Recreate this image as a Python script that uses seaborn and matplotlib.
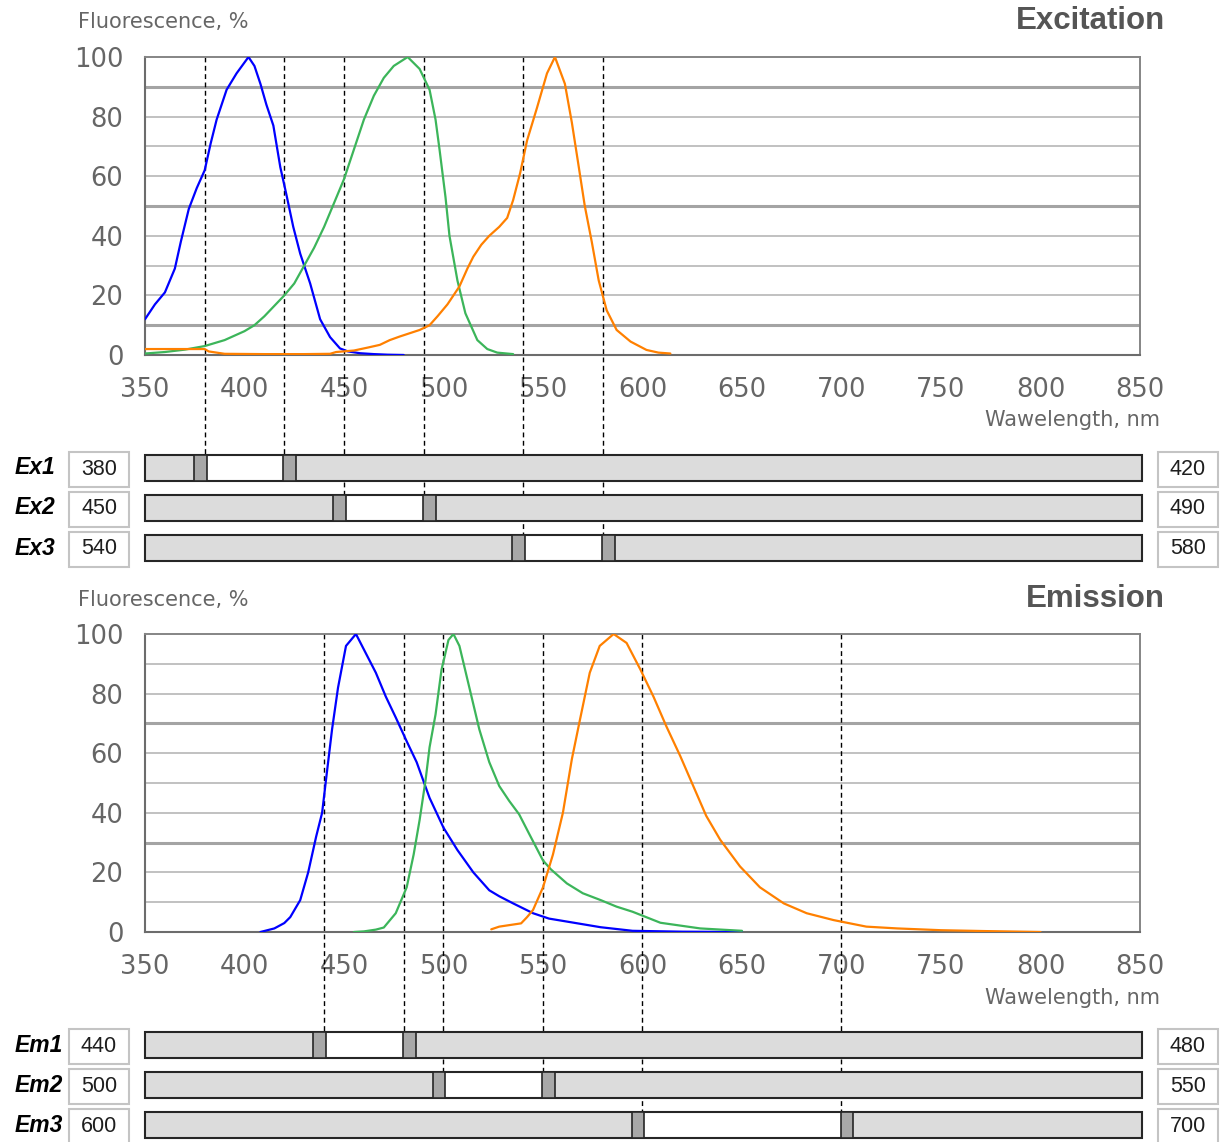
import matplotlib
matplotlib.use("Agg")
import numpy as np
import pandas as pd
import matplotlib.pyplot as plt
import seaborn as sns
from matplotlib.patches import Rectangle
from matplotlib.lines import Line2D
from matplotlib.transforms import Affine2D, blended_transform_factory
from matplotlib import font_manager

# ---------------- spectra (wavelength in nm, fluorescence in %) ----------------
ex_blue_nm = [350, 355, 360, 365, 368, 372, 376, 380, 383, 386, 391, 396, 402, 405, 408,
              411, 414.5, 418, 421, 424.5, 428, 433, 438, 443, 448, 452, 458, 465, 472, 480]
ex_blue = [12, 17, 21, 29, 38, 49, 56, 62, 71, 79, 89, 94.5, 100, 97, 91,
           84, 77, 63, 54, 43, 34, 24, 12, 6, 2.2, 1.2, 0.6, 0.3, 0.1, 0]

ex_green_nm = [350, 360, 370, 380, 390, 400, 405, 410, 415, 420, 425, 430, 435, 440, 445,
               450, 455, 460, 465, 470, 475, 482, 488, 493, 496, 498, 501, 503, 507, 511,
               517, 522, 527, 535]
ex_green = [0.5, 1, 1.8, 3, 5, 8, 10, 13, 16.5, 20, 24, 30, 36, 43, 51,
            59, 69, 79, 87, 93, 97, 100, 96, 89, 79, 69, 53, 40, 25, 14,
            5, 2, 0.8, 0.3]

ex_orange_nm = [350, 365, 380, 382, 390, 410, 430, 443, 446, 455, 462, 468, 473, 478, 483,
                488, 493, 497, 502, 508, 512, 515, 519, 523, 528, 532, 535, 538.5, 542, 547,
                552, 556, 561, 564.5, 568, 571, 574.5, 578, 582, 587, 594, 602, 608, 614]
ex_orange = [2, 2, 2, 1.2, 0.4, 0.3, 0.3, 0.4, 1, 1.5, 2.5, 3.4, 5, 6.2, 7.3,
             8.4, 10, 13, 17, 23, 29, 33, 37, 40, 43, 46, 52, 61, 72, 83,
             94.5, 100, 91, 78, 63, 50, 38, 25, 15, 8.4, 4.5, 1.7, 0.8, 0.5]

em_blue_nm = [408, 415, 420, 423, 428, 432, 436, 439, 441.3, 444, 447, 451, 456, 461, 466,
              471, 476, 481.5, 486.5, 493, 500, 507, 515, 523, 528, 535, 545, 553, 562,
              579, 595, 620, 650]
em_blue = [0, 1.2, 3, 5, 10.7, 20, 32, 40, 53, 68, 82, 96, 100, 93.5, 87,
           79, 72, 64, 57, 45, 35, 27.5, 20, 14, 12, 9.6, 6.3, 4.5, 3.5,
           1.6, 0.4, 0.1, 0]

em_green_nm = [455, 460, 466, 470, 476, 481.5, 485, 488, 491, 493, 496, 499, 502.5, 505, 508,
               513, 518, 523, 528, 533, 538, 543, 550, 554, 562, 570, 579, 587, 595, 609,
               629, 650]
em_green = [0, 0.2, 0.8, 1.5, 6.3, 15, 26, 37.6, 51, 62, 73, 88, 98, 100, 96,
            82, 68, 57, 49, 44, 39.5, 33, 24, 21, 16.3, 13, 10.7, 8.5, 6.8, 3.1,
            1.2, 0.4]

em_orange_nm = [524, 528, 535, 539, 542, 545, 550, 555, 560, 564.5, 568.5, 573.5, 578.5, 585.5,
                592, 599, 605.5, 612, 619, 625.5, 632, 639, 649, 659, 671, 682.5, 696, 712.5,
                728, 750, 773, 800]
em_orange = [0.9, 1.8, 2.5, 2.9, 5, 7.4, 15, 26, 40, 58, 71, 87, 96, 100,
             97, 88, 79, 69, 59, 49, 39, 31, 22, 15, 9.6, 6.3, 4, 1.8,
             1.2, 0.6, 0.3, 0]

dye_names = ["blue", "green", "orange"]
dye_colors = ["#0000ff", "#3cb55a", "#ff8000"]

# ---------------- axes, grid and filter windows ----------------
x_ticks = [350, 400, 450, 500, 550, 600, 650, 700, 750, 800, 850]
y_ticks = [0, 20, 40, 60, 80, 100]
grid_levels = [10, 20, 30, 40, 50, 60, 70, 80, 90]
ex_bold_levels = [10, 50, 90]
em_bold_levels = [30, 70]

ex_filter_names = ["Ex1", "Ex2", "Ex3"]
ex_filter_low = [380, 450, 540]
ex_filter_high = [420, 490, 580]
em_filter_names = ["Em1", "Em2", "Em3"]
em_filter_low = [440, 500, 600]
em_filter_high = [480, 550, 700]

# ---------------- figure ----------------
sns.set_style("white")
plt.rcParams["font.family"] = ["DejaVu Sans"]

W, H = 1225, 1142
fig = plt.figure(figsize=(W / 100, H / 100), dpi=100)
fig.patch.set_facecolor("white")
PIX = Affine2D().scale(1 / W, -1 / H).translate(0, 1) + fig.transFigure

installed = {f.name for f in font_manager.fontManager.ttflist}
if "Liberation Sans Narrow" in installed:
    box_font, box_size = "Liberation Sans Narrow", 17
else:
    box_font, box_size = "Liberation Sans", 15.5

TEXT_GRAY = "#666666"
AXIS_GRAY = "#6c6c6c"


def add_px_axes(x0, y0, x1, y1):
    return fig.add_axes([x0 / W, 1 - y1 / H, (x1 - x0) / W, (y1 - y0) / H])


def draw_panel(top, bottom, title, spectra, bold_levels, names, lows, highs, bar_tops,
               label_y, xlabel_y):
    ax = add_px_axes(145, top, 1140, bottom)
    frames = []
    for name, (nm, pct) in zip(dye_names, spectra):
        frames.append(pd.DataFrame({"nm": nm, "pct": pct, "dye": name}))
    df = pd.concat(frames, ignore_index=True)
    sns.lineplot(data=df, x="nm", y="pct", hue="dye", palette=dict(zip(dye_names, dye_colors)),
                 estimator=None, sort=False, legend=False, linewidth=1.6, zorder=4, ax=ax)
    ax.set_xlabel("")
    ax.set_ylabel("")

    for g in grid_levels:
        bold = g in bold_levels
        ax.axhline(g, color="#a4a4a4" if bold else "#bcbcbc", lw=2.2 if bold else 1.3, zorder=1)

    # filter edges run from the plot top down to the matching slider bar
    trans = blended_transform_factory(ax.transData, fig.transFigure)
    for lo, hi, bt in zip(lows, highs, bar_tops):
        for v in (lo, hi):
            ax.add_artist(Line2D([v, v], [1 - top / H, 1 - bt / H], transform=trans,
                                 color="black", lw=1.0, ls=(0, (3.5, 2.5)),
                                 clip_on=False, zorder=2))

    ax.set_xlim(350, 850)
    ax.set_ylim(0, 100)
    ax.set_xticks(x_ticks)
    ax.set_yticks(y_ticks)
    ax.tick_params(axis="x", direction="inout", length=16, width=1.2, color=AXIS_GRAY,
                   labelsize=18.5, labelcolor=TEXT_GRAY, pad=8)
    ax.tick_params(axis="y", direction="out", length=8.5, width=1.2, color=AXIS_GRAY,
                   labelsize=18.5, labelcolor=TEXT_GRAY, pad=7)
    for side in ("left", "bottom"):
        ax.spines[side].set_color(AXIS_GRAY)
        ax.spines[side].set_linewidth(1.5)
    for side in ("top", "right"):
        ax.spines[side].set_color("#858585")
        ax.spines[side].set_linewidth(1.4)
    ax.set_facecolor("white")

    fig.text(78 / W, 1 - label_y / H, "Fluorescence, %", fontsize=15, color=TEXT_GRAY,
             ha="left", va="center")
    fig.text(1165 / W, 1 - (label_y - 1) / H, title, fontsize=22.5, fontweight="bold",
             family="Liberation Sans", color="#555555", ha="right", va="center")
    fig.text(1160 / W, 1 - xlabel_y / H, "Wawelength, nm", fontsize=15, color=TEXT_GRAY,
             ha="right", va="center")

    # slider rows
    for name, lo, hi, bt in zip(names, lows, highs, bar_tops):
        bax = add_px_axes(145, bt, 1140, bt + 26)
        bax.set_xlim(350, 850)
        bax.set_ylim(0, 1)
        bax.axis("off")
        bax.patch.set_alpha(0)
        bax.add_patch(Rectangle((350, 0), 501, 1, fc="#dcdcdc", ec="none", clip_on=False))
        bax.add_patch(Rectangle((lo, 0), hi - lo, 1, fc="white", ec="none", clip_on=False))
        bax.add_patch(Rectangle((350, 0), 501, 1, fill=False, ec="#262626", lw=1.5,
                                clip_on=False))
        bax.add_patch(Rectangle((lo - 5.5, 0), 6.5, 1, fc="#a8a8a8", ec="#262626", lw=1.2,
                                clip_on=False))
        bax.add_patch(Rectangle((hi - 0.5, 0), 6.5, 1, fc="#a8a8a8", ec="#262626", lw=1.2,
                                clip_on=False))

        cy = bt + 13
        fig.text(15 / W, 1 - cy / H, name, fontsize=16.5, fontweight="bold", fontstyle="italic",
                 family="Liberation Sans", color="black", ha="left", va="center")
        for bx, val in ((69, lo), (1158, hi)):
            fig.add_artist(Rectangle((bx, bt - 3), 60, 35, transform=PIX, fc="white",
                                     ec="#c4c4c4", lw=1.5))
            fig.text((bx + 30) / W, 1 - (cy + 1) / H, str(val), fontsize=box_size,
                     family=box_font, color="#1e1e1e", ha="center", va="center")


draw_panel(57, 355, "Excitation",
           [(ex_blue_nm, ex_blue), (ex_green_nm, ex_green), (ex_orange_nm, ex_orange)],
           ex_bold_levels, ex_filter_names, ex_filter_low, ex_filter_high,
           [455, 495, 535], 22, 420)

draw_panel(634, 932, "Emission",
           [(em_blue_nm, em_blue), (em_green_nm, em_green), (em_orange_nm, em_orange)],
           em_bold_levels, em_filter_names, em_filter_low, em_filter_high,
           [1032, 1072, 1112], 600, 998)

fig.savefig("out.png", dpi=100, facecolor="white")
